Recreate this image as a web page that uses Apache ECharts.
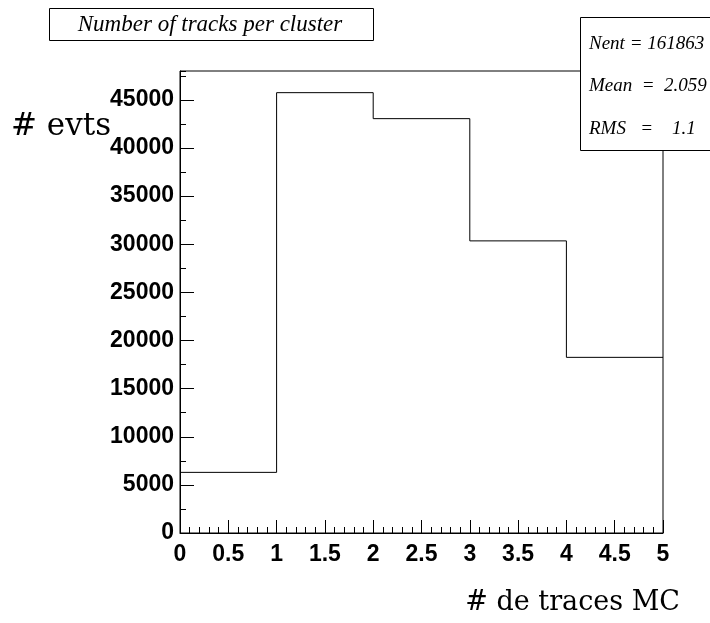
<!DOCTYPE html>
<html>
<head>
<meta charset="utf-8">
<script src="https://cdn.jsdelivr.net/npm/echarts@6/dist/echarts.min.js"></script>
<style>
html,body{margin:0;padding:0;background:#fff;}
#chart{width:710px;height:623px;}
</style>
</head>
<body>
<div id="chart"></div>
<script>
// Data
var binEdges = [0, 1, 2, 3, 4, 5];
var counts = [6300, 45750, 43050, 30350, 18250];
var xTicks = [0, 0.5, 1, 1.5, 2, 2.5, 3, 3.5, 4, 4.5, 5];
var yTicks = [0, 5000, 10000, 15000, 20000, 25000, 30000, 35000, 40000, 45000];
var titleText = 'Number of tracks per cluster';
var statsLines = ['Nent = 161863', 'Mean  =  2.059', 'RMS   =    1.1'];
var xTitle = '# de traces MC';
var yTitle = '# evts';

var yMax = 48000;

var stepData = binEdges.map(function (e, i) {
  return [e, counts[Math.min(i, counts.length - 1)]];
});

var chart = echarts.init(document.getElementById('chart'), null, {renderer: 'canvas'});
var tickFont = {fontFamily: 'Liberation Sans', fontWeight: 'bold', fontSize: 23, color: '#000'};

var option = {
  animation: false,
  backgroundColor: '#fff',
  grid: {left: 180, right: 47, top: 71, bottom: 90, show: true, borderColor: '#000', borderWidth: 1, backgroundColor: 'transparent'},
  xAxis: {
    type: 'value', min: xTicks[0], max: xTicks[xTicks.length - 1], interval: xTicks[1] - xTicks[0],
    axisLine: {show: true, onZero: false, lineStyle: {color: '#000', width: 1}},
    axisTick: {show: true, inside: true, length: 13, lineStyle: {color: '#000'}},
    minorTick: {show: true, splitNumber: 5, length: 6, lineStyle: {color: '#000'}},
    splitLine: {show: false},
    axisLabel: Object.assign({margin: 10, formatter: function (v) { return String(v); }}, tickFont)
  },
  yAxis: [
    {
      type: 'value', min: 0, max: yMax, interval: yTicks[1] - yTicks[0],
      axisLine: {show: true, onZero: false, lineStyle: {color: '#000', width: 1}},
      axisTick: {show: true, inside: true, length: 14, lineStyle: {color: '#000'}},
      splitLine: {show: false},
      axisLabel: Object.assign({margin: 6, showMaxLabel: false, formatter: function (v) {
        return yTicks.indexOf(v) >= 0 ? String(v) : '';
      }}, tickFont)
    },
    {
      type: 'value', min: 0, max: yMax, interval: (yTicks[1] - yTicks[0]) / 2, position: 'left',
      axisLine: {show: false},
      axisTick: {show: true, inside: true, length: 6, lineStyle: {color: '#000'}},
      splitLine: {show: false},
      axisLabel: {show: false}
    }
  ],
  series: [{
    type: 'line', step: 'end', data: stepData, symbol: 'none',
    lineStyle: {color: '#000', width: 1}, z: 3
  }],
  graphic: [
    {type: 'rect', shape: {x: 49.5, y: 8.5, width: 324, height: 32}, style: {fill: '#fff', stroke: '#000', lineWidth: 1}, z: 10},
    {type: 'text', x: 210, y: 25, style: {text: titleText, font: 'italic 23px "Liberation Serif"', fill: '#000', textAlign: 'center', textVerticalAlign: 'middle'}, z: 11},
    {type: 'rect', shape: {x: 580.5, y: 17.5, width: 200, height: 133}, style: {fill: '#fff', stroke: '#000', lineWidth: 1}, z: 10},
    {type: 'text', x: 589, y: 44, style: {text: statsLines[0], font: 'italic 19px "Liberation Serif"', fill: '#000', textVerticalAlign: 'middle'}, z: 11},
    {type: 'text', x: 589, y: 86, style: {text: statsLines[1], font: 'italic 19px "Liberation Serif"', fill: '#000', textVerticalAlign: 'middle'}, z: 11},
    {type: 'text', x: 589, y: 129, style: {text: statsLines[2], font: 'italic 19px "Liberation Serif"', fill: '#000', textVerticalAlign: 'middle'}, z: 11},
    {type: 'text', x: 11, y: 127, style: {text: yTitle, font: '31px "DejaVu Serif"', fill: '#000', textVerticalAlign: 'middle'}, z: 11},
    {type: 'text', x: 680, y: 603, style: {text: xTitle, font: '27px "DejaVu Serif"', fill: '#000', textAlign: 'right', textVerticalAlign: 'middle'}, z: 11}
  ]
};
chart.setOption(option);
</script>
</body>
</html>
